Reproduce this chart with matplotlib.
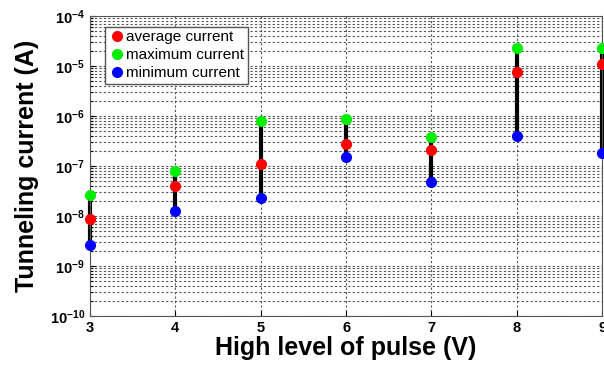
import matplotlib
matplotlib.use("Agg")
import matplotlib.pyplot as plt
import numpy as np

plt.rcParams['font.family'] = ['Liberation Sans', 'DejaVu Sans']

pulse_v = [3, 4, 5, 6, 7, 8, 9]
avg_current = [8.7e-9, 4.0e-8, 1.1e-7, 2.75e-7, 2.1e-7, 7.6e-6, 1.1e-5]
max_current = [2.6e-8, 7.9e-8, 7.9e-7, 8.7e-7, 3.8e-7, 2.3e-5, 2.3e-5]
min_current = [2.6e-9, 1.26e-8, 2.3e-8, 1.5e-7, 4.8e-8, 4.0e-7, 1.8e-7]

fig = plt.figure(figsize=(6.04, 3.71), dpi=100)
ax = fig.add_axes([0.149, 0.148, 0.848, 0.809])

ax.vlines(pulse_v, min_current, max_current, colors='black', linewidth=3, zorder=2, clip_on=False)
ax.plot(pulse_v, avg_current, 'o', color='red', markersize=7, label='average current', zorder=3, clip_on=False)
ax.plot(pulse_v, max_current, 'o', color='#00ee00', markersize=7, label='maximum current', zorder=3, clip_on=False)
ax.plot(pulse_v, min_current, 'o', color='blue', markersize=7, label='minimum current', zorder=3, clip_on=False)

ax.set_yscale('log')
ax.set_xlim(3, 9)
ax.set_ylim(1e-10, 1e-4)
ax.set_xticks(pulse_v)
ax.set_yticks([10.0**k for k in range(-10, -3)])
ax.grid(True, which='major', linestyle=(0, (2, 2)), color='#555555', linewidth=0.8)
ax.grid(True, which='minor', axis='y', linestyle=(0, (2, 2)), color='#555555', linewidth=0.8)
ax.tick_params(which='both', direction='in', labelsize=10.5, width=0.8)
ax.tick_params(which='minor', length=2)
for lab in ax.get_xticklabels() + ax.get_yticklabels():
    lab.set_fontweight('bold')
for sp in ax.spines.values():
    sp.set_color('#555555')

ax.set_xlabel('High level of pulse (V)', fontsize=18, fontweight='bold', labelpad=1)
ax.set_ylabel('Tunneling current (A)', fontsize=18, fontweight='bold', labelpad=8)

leg = ax.legend(loc='upper left', fontsize=11, frameon=True, fancybox=False,
                handletextpad=0.1, handlelength=1.0, borderpad=0.25, labelspacing=0.25,
                bbox_to_anchor=(0.015, 0.99))
leg.get_frame().set_edgecolor('#555555')
leg.get_frame().set_alpha(1)

fig.savefig('out.png', dpi=100)
